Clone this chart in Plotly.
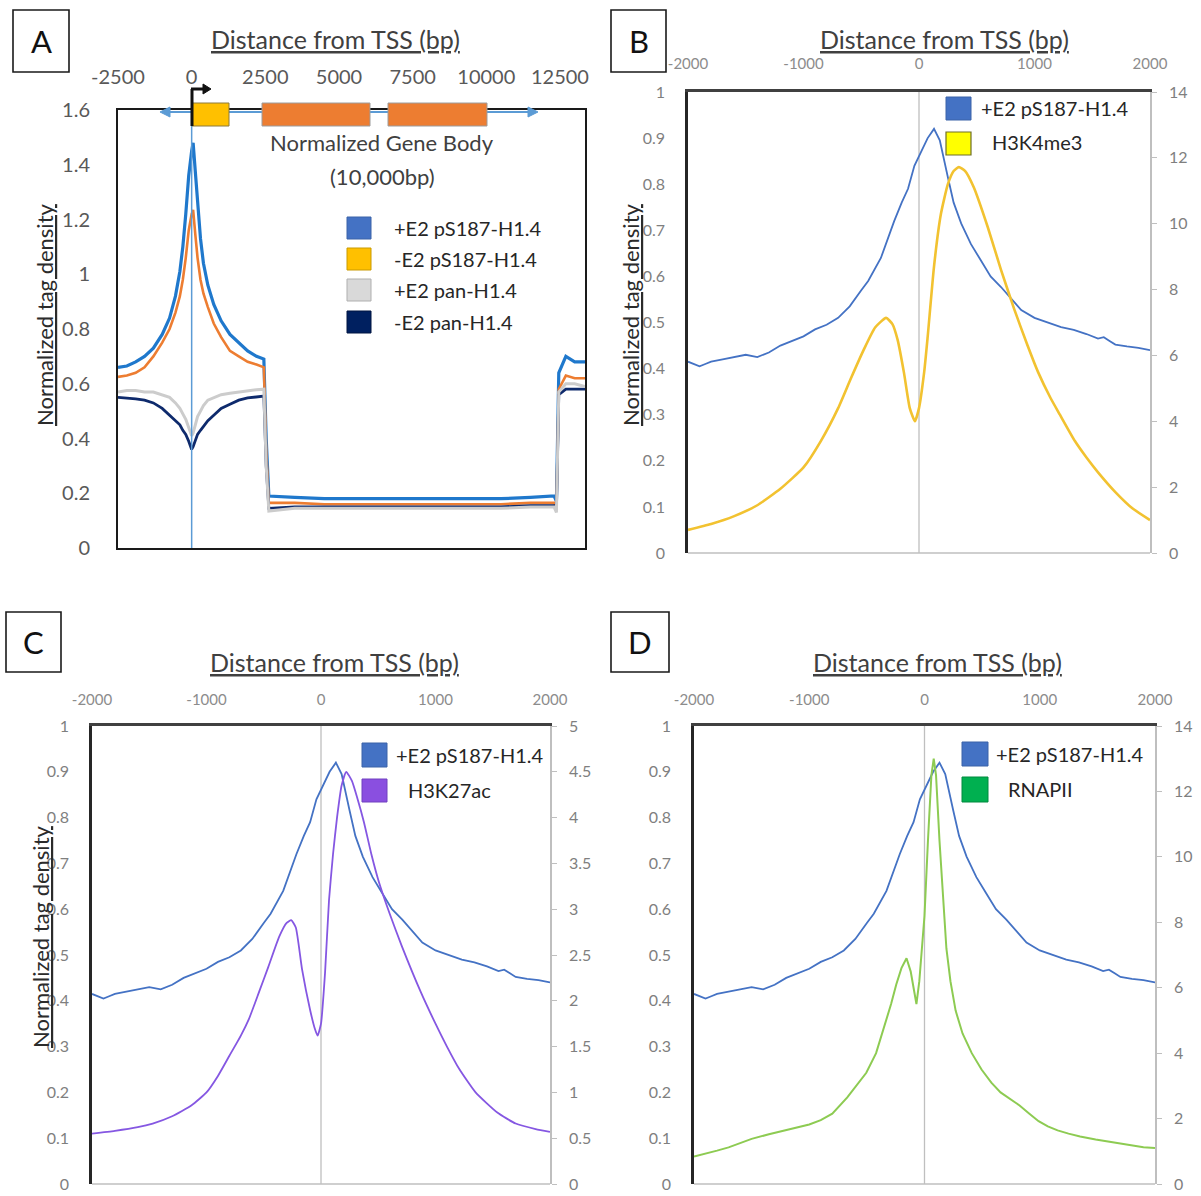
import plotly.graph_objects as go

# ---------------- data ----------------
# Panel A: metagene profile (TSS region, normalized gene body, TES region)
A_x = [-2500, -2200, -1900, -1600, -1300, -1000, -750, -550, -400, -300, -200, -100, 0, 50, 120, 200, 300, 400,
       550, 750, 1000, 1300, 1600, 1900, 2200, 2450,
       2530, 2620, 3500, 4500, 5500, 6500, 7500, 8500, 9500, 10500, 11500, 12300, 12380, 12460, 12700, 13000, 13350]
A_plusE2_pS187 = [0.66, 0.665, 0.68, 0.70, 0.73, 0.78, 0.84, 0.92, 1.01, 1.10, 1.22, 1.36, 1.45, 1.48, 1.38, 1.25, 1.13, 1.04,
                  0.96, 0.89, 0.83, 0.78, 0.75, 0.72, 0.70, 0.69,
                  0.40, 0.19, 0.185, 0.18, 0.18, 0.18, 0.18, 0.18, 0.18, 0.18, 0.185, 0.19, 0.17, 0.64, 0.70, 0.68, 0.68]
A_minusE2_pS187 = [0.625, 0.63, 0.64, 0.66, 0.70, 0.75, 0.80, 0.86, 0.92, 0.98, 1.06, 1.16, 1.22, 1.235, 1.15, 1.06, 0.98, 0.93,
                   0.88, 0.82, 0.77, 0.72, 0.70, 0.68, 0.67, 0.66,
                   0.36, 0.165, 0.165, 0.16, 0.16, 0.16, 0.16, 0.16, 0.16, 0.16, 0.165, 0.165, 0.15, 0.58, 0.63, 0.62, 0.62]
A_plusE2_pan = [0.57, 0.575, 0.575, 0.57, 0.57, 0.56, 0.55, 0.53, 0.51, 0.49, 0.47, 0.44, 0.41, 0.42, 0.45, 0.48, 0.50, 0.52,
                0.54, 0.55, 0.56, 0.565, 0.57, 0.575, 0.578, 0.58,
                0.30, 0.135, 0.145, 0.145, 0.145, 0.145, 0.145, 0.145, 0.145, 0.145, 0.15, 0.15, 0.13, 0.57, 0.60, 0.60, 0.59]
A_minusE2_pan = [0.55, 0.548, 0.545, 0.54, 0.53, 0.51, 0.485, 0.465, 0.45, 0.43, 0.415, 0.39, 0.36, 0.37, 0.39, 0.415, 0.43, 0.445,
                 0.465, 0.485, 0.51, 0.525, 0.54, 0.548, 0.552, 0.555,
                 0.30, 0.145, 0.15, 0.15, 0.15, 0.15, 0.15, 0.15, 0.15, 0.15, 0.155, 0.155, 0.14, 0.56, 0.58, 0.58, 0.58]
A_top_ticks = [-2500, 0, 2500, 5000, 7500, 10000, 12500]
A_y_ticks = [0, 0.2, 0.4, 0.6, 0.8, 1, 1.2, 1.4, 1.6]
A_legend = ["+E2 pS187-H1.4", "-E2 pS187-H1.4", "+E2 pan-H1.4", "-E2 pan-H1.4"]

# Panels B-D: +/-2 kb around TSS
tss_ticks = [-2000, -1000, 0, 1000, 2000]
left_ticks = [0, 0.1, 0.2, 0.3, 0.4, 0.5, 0.6, 0.7, 0.8, 0.9, 1]
right_ticks_14 = [0, 2, 4, 6, 8, 10, 12, 14]
right_ticks_5 = [0, 0.5, 1, 1.5, 2, 2.5, 3, 3.5, 4, 4.5, 5]

pS187_x = [-2000, -1950, -1900, -1850, -1800, -1700, -1600, -1500, -1400, -1300, -1200, -1100, -1000, -900, -800,
           -700, -600, -500, -440, -330, -215, -150, -95, -40, 15, 75, 130, 180, 250, 300, 365, 450, 535, 620, 710,
           800, 885, 1000, 1115, 1230, 1340, 1450, 1550, 1600, 1650, 1700, 1800, 1900, 2000]
pS187_y = [0.415, 0.41, 0.405, 0.41, 0.415, 0.42, 0.425, 0.43, 0.425, 0.435, 0.45, 0.46, 0.47, 0.485, 0.495,
           0.51, 0.535, 0.57, 0.59, 0.64, 0.72, 0.76, 0.79, 0.84, 0.87, 0.90, 0.92, 0.895, 0.815, 0.76, 0.715, 0.67,
           0.635, 0.60, 0.577, 0.55, 0.527, 0.51, 0.50, 0.49, 0.484, 0.475, 0.465, 0.468, 0.46, 0.452, 0.448, 0.445, 0.44]

H3K4me3_x = [-2000, -1800, -1600, -1400, -1200, -1000, -850, -700, -590, -475, -380, -285, -230, -185, -130,
             -80, -35, 0, 45, 75, 130, 190, 250, 300, 345, 400, 475, 595, 710, 825, 940, 1030, 1140, 1220, 1350,
             1450, 1550, 1700, 1850, 2000]
H3K4me3_y = [0.70, 0.88, 1.12, 1.45, 1.95, 2.6, 3.4, 4.4, 5.3, 6.2, 6.85, 7.14, 6.95, 6.47, 5.47,
             4.4, 4.0, 4.4, 5.5, 6.56, 8.7, 10.3, 11.2, 11.6, 11.72, 11.6, 11.1, 9.9, 8.6, 7.4, 6.3, 5.5, 4.7, 4.2, 3.4,
             2.9, 2.45, 1.85, 1.35, 1.0]

H3K27ac_x = [-2000, -1800, -1600, -1470, -1300, -1130, -1000, -900, -800, -700, -630, -540, -460, -365, -300,
             -260, -220, -165, -95, -55, -30, 0, 35, 70, 105, 140, 180, 220, 270, 320, 375, 440, 505, 600, 705,
             870, 1000, 1100, 1205, 1350, 1540, 1700, 1875, 2000]
H3K27ac_y = [0.55, 0.58, 0.62, 0.66, 0.74, 0.86, 1.0, 1.18, 1.4, 1.62, 1.8, 2.1, 2.37, 2.7, 2.85,
             2.88, 2.8, 2.34, 1.9, 1.7, 1.62, 1.75, 2.3, 3.1, 3.6, 4.0, 4.35, 4.5, 4.4, 4.2, 3.95, 3.6, 3.3, 2.95, 2.6,
             2.1, 1.75, 1.5, 1.26, 1.0, 0.78, 0.66, 0.6, 0.57]

RNAPII_x = [-2000, -1900, -1800, -1700, -1600, -1500, -1350, -1170, -1000, -900, -800, -670, -505, -420, -340,
            -290, -245, -200, -156, -120, -90, -70, -45, -20, 0, 30, 60, 80, 100, 130, 160, 190, 225, 270, 330,
            410, 495, 580, 660, 740, 825, 910, 990, 1070, 1155, 1250, 1350, 1485, 1600, 1700, 1825, 1900, 2000]
RNAPII_y = [0.84, 0.92, 1.02, 1.12, 1.25, 1.38, 1.52, 1.68, 1.82, 1.95, 2.15, 2.65, 3.4, 4.0, 4.9,
            5.5, 6.1, 6.6, 6.9, 6.5, 5.9, 5.5, 6.2, 7.2, 8.2, 10.5, 12.5, 13.0, 12.5, 10.5, 8.8, 7.2, 6.2, 5.3, 4.6,
            4.0, 3.5, 3.1, 2.8, 2.6, 2.4, 2.15, 1.92, 1.76, 1.64, 1.54, 1.45, 1.36, 1.29, 1.22, 1.15, 1.12, 1.1]

# ---------------- layout helpers ----------------
W, H = 1201, 1196
FONT = "Lato, 'Open Sans', sans-serif"


def fx(p):
    return p / W


def fy(p):
    return 1 - p / H


def fmt(v):
    return ("%g" % v)


def dom_x(l, r):
    return [fx(l), fx(r)]


def dom_y(t, b):
    return [fy(b), fy(t)]


fig = go.Figure()

# ---------------- traces ----------------
fig.add_trace(go.Scatter(x=A_x, y=A_plusE2_pS187, mode="lines", line=dict(color="#1F78CC", width=3.2),
                         xaxis="x", yaxis="y", name=A_legend[0]))
fig.add_trace(go.Scatter(x=A_x, y=A_minusE2_pS187, mode="lines", line=dict(color="#ED7D31", width=2.6),
                         xaxis="x", yaxis="y", name=A_legend[1]))
fig.add_trace(go.Scatter(x=A_x, y=A_minusE2_pan, mode="lines", line=dict(color="#0E2A6C", width=2.8),
                         xaxis="x", yaxis="y", name=A_legend[3]))
fig.add_trace(go.Scatter(x=A_x, y=A_plusE2_pan, mode="lines", line=dict(color="#CCCCCC", width=3.0),
                         xaxis="x", yaxis="y", name=A_legend[2]))

blue_line = dict(color="#4472C4", width=1.8)
fig.add_trace(go.Scatter(x=pS187_x, y=pS187_y, mode="lines", line=blue_line, xaxis="x2", yaxis="y2"))
fig.add_trace(go.Scatter(x=H3K4me3_x, y=H3K4me3_y, mode="lines", line=dict(color="#F2C230", width=2.6, shape="spline", smoothing=0.5),
                         xaxis="x2", yaxis="y3"))
fig.add_trace(go.Scatter(x=pS187_x, y=pS187_y, mode="lines", line=blue_line, xaxis="x3", yaxis="y4"))
fig.add_trace(go.Scatter(x=H3K27ac_x, y=H3K27ac_y, mode="lines", line=dict(color="#8557E2", width=1.8, shape="spline", smoothing=0.5),
                         xaxis="x3", yaxis="y5"))
fig.add_trace(go.Scatter(x=pS187_x, y=pS187_y, mode="lines", line=blue_line, xaxis="x4", yaxis="y6"))
fig.add_trace(go.Scatter(x=RNAPII_x, y=RNAPII_y, mode="lines", line=dict(color="#8DCB52", width=2.0),
                         xaxis="x4", yaxis="y7"))

# ---------------- axes ----------------
def top_axis(l, r, rng, ticks, size, color, standoff, anchor, linecolor, linewidth, mirror):
    return dict(domain=dom_x(l, r), range=rng, side="top", anchor=anchor, automargin=False,
                tickmode="array", tickvals=ticks, ticktext=[fmt(t) for t in ticks], ticklabeloverflow="allow",
                tickfont=dict(size=size, color=color, family=FONT), ticks="", ticklabelstandoff=standoff,
                showline=True, linecolor=linecolor, linewidth=linewidth, mirror=mirror,
                showgrid=False, zeroline=False, fixedrange=True)


def left_axis(t, b, rng, ticks, size, color, standoff, anchor, linecolor, linewidth, mirror):
    return dict(domain=dom_y(t, b), range=rng, side="left", anchor=anchor, automargin=False,
                tickmode="array", tickvals=ticks, ticktext=[fmt(t) for t in ticks], ticklabeloverflow="allow",
                tickfont=dict(size=size, color=color, family=FONT), ticks="", ticklabelstandoff=standoff,
                showline=True, linecolor=linecolor, linewidth=linewidth, mirror=mirror,
                showgrid=False, zeroline=False, fixedrange=True)


def right_axis(over, anchor, rng, ticks):
    return dict(overlaying=over, anchor=anchor, side="right", range=rng, automargin=False,
                tickmode="array", tickvals=ticks, ticktext=[fmt(t) for t in ticks], ticklabeloverflow="allow",
                tickfont=dict(size=16, color="#7F7F7F", family=FONT),
                ticks="outside", ticklen=5, tickwidth=1.2, tickcolor="#BFBFBF", ticklabelstandoff=9,
                showline=True, linecolor="#BFBFBF", linewidth=1.5,
                showgrid=False, zeroline=False, fixedrange=True)


PB = dict(l=688, r=1150, t=92, b=553)
PC = dict(l=92, r=550, t=726, b=1184)
PD = dict(l=694, r=1155, t=726, b=1184)

layout_axes = dict(
    xaxis=top_axis(118, 585, [-2500, 13350], A_top_ticks, 20, "#595959", 16, "y", "#1A1A1A", 2, True),
    yaxis=left_axis(110, 548, [0, 1.6], A_y_ticks, 20, "#595959", 22, "x", "#1A1A1A", 2, True),
    xaxis2=top_axis(PB["l"], PB["r"], [-2000, 2000], tss_ticks, 15, "#8C8C8C", 14, "y2", "#404040", 2.5, False),
    yaxis2=left_axis(PB["t"], PB["b"], [0, 1], left_ticks, 16, "#7F7F7F", 17, "x2", "#262626", 2.5, False),
    yaxis3=right_axis("y2", "x2", [0, 14], right_ticks_14),
    xaxis3=top_axis(PC["l"], PC["r"], [-2000, 2000], tss_ticks, 15, "#8C8C8C", 12, "y4", "#404040", 2.5, False),
    yaxis4=left_axis(PC["t"], PC["b"], [0, 1], left_ticks, 16, "#7F7F7F", 17, "x3", "#262626", 2.5, False),
    yaxis5=right_axis("y4", "x3", [0, 5], right_ticks_5),
    xaxis4=top_axis(PD["l"], PD["r"], [-2000, 2000], tss_ticks, 15, "#8C8C8C", 12, "y6", "#404040", 2.5, False),
    yaxis6=left_axis(PD["t"], PD["b"], [0, 1], left_ticks, 16, "#7F7F7F", 17, "x4", "#262626", 2.5, False),
    yaxis7=right_axis("y6", "x4", [0, 14], right_ticks_14),
)

# ---------------- shapes ----------------
shapes = []


def prect(x0, y0, x1, y1, fill, line_color, lw=1.0):
    shapes.append(dict(type="rect", xref="paper", yref="paper", x0=fx(x0), x1=fx(x1), y0=fy(y1), y1=fy(y0),
                       fillcolor=fill, line=dict(color=line_color, width=lw)))


def pline(x0, y0, x1, y1, color, lw):
    shapes.append(dict(type="line", xref="paper", yref="paper", x0=fx(x0), x1=fx(x1), y0=fy(y0), y1=fy(y1),
                       line=dict(color=color, width=lw)))


def ppath(points, fill, color, lw=1):
    d = "M " + " L ".join("%f,%f" % (fx(a), fy(b)) for a, b in points) + " Z"
    shapes.append(dict(type="path", xref="paper", yref="paper", path=d, fillcolor=fill,
                       line=dict(color=color, width=lw)))


# bottom gray borders and TSS lines for B-D
for xa, ya in [("x2", "y2"), ("x3", "y4"), ("x4", "y6")]:
    shapes.append(dict(type="line", xref=xa + " domain", yref=ya + " domain", x0=0, x1=1, y0=0, y1=0,
                       line=dict(color="#BFBFBF", width=1.5)))
    shapes.append(dict(type="line", xref=xa, yref=ya + " domain", x0=0, x1=0, y0=0, y1=1,
                       line=dict(color="#BFBFBF", width=1.3), layer="below"))

# TSS line in A
shapes.append(dict(type="line", xref="x", yref="y", x0=0, x1=0, y0=0, y1=1.6,
                   line=dict(color="#5B9BD5", width=1.5)))

# gene diagram in A
pline(168, 112, 530, 112, "#5B9BD5", 1.8)
ppath([(160, 112), (170, 107), (170, 117)], "#5B9BD5", "#5B9BD5")
ppath([(538, 112), (528, 107), (528, 117)], "#5B9BD5", "#5B9BD5")
prect(192, 103, 229, 126, "#FFC000", "#8C7A3C", 1)
prect(262, 103, 370, 126, "#ED7D31", "#9C9C9C", 1)
prect(388, 103, 487, 126, "#ED7D31", "#9C9C9C", 1)
pline(192, 126, 192, 89, "#111111", 3)
pline(191, 89, 203, 89, "#111111", 3)
ppath([(211, 89), (203, 84), (203, 94)], "#111111", "#111111")

# panel letter boxes
for (x0, y0, x1, y1) in [(13, 10, 69, 72), (611, 10, 666, 72), (6, 612, 61, 672), (611, 612, 669, 672)]:
    prect(x0, y0, x1, y1, "white", "#1A1A1A", 1.6)

# legend squares
leg_A_colors = [("#4472C4", "#3A62A8"), ("#FFC000", "#C99A00"), ("#D9D9D9", "#AFAFAF"), ("#002060", "#001540")]
leg_A_rows = [228, 259, 290, 322]
for (fc, lc), yc in zip(leg_A_colors, leg_A_rows):
    prect(347, yc - 11, 371, yc + 11, fc, lc, 1)

prect(946, 97, 971, 120, "#4472C4", "#3A62A8", 1)
prect(946, 132, 971, 155, "#FFFF00", "#6E6E2A", 1.2)
prect(362, 743, 387, 767, "#4472C4", "#3A62A8", 1)
prect(362, 779, 387, 802, "#8A4FE0", "#7040C0", 1)
prect(962, 742, 988, 766, "#4472C4", "#3A62A8", 1)
prect(962, 777, 988, 802, "#00B050", "#008A3E", 1)

# ---------------- annotations ----------------
ann = []


def text(x, y, s, size, color="#262626", xanchor="center", angle=0):
    ann.append(dict(xref="paper", yref="paper", x=fx(x), y=fy(y), text=s, showarrow=False,
                    xanchor=xanchor, yanchor="middle", textangle=angle,
                    font=dict(size=size, color=color, family=FONT)))


for (cx, cy, s) in [(41, 41, "A"), (638.5, 41, "B"), (33.5, 642, "C"), (640, 642, "D")]:
    text(cx, cy, s, 31, "#111111")

title = "<u>Distance from TSS (bp)</u>"
for (cx, cy) in [(335, 39), (944, 39), (334, 662), (937, 662)]:
    text(cx, cy, title, 25, "#404040")

ylab = "<u>Normalized tag density</u>"
for (cx, cy) in [(44, 315), (630, 315), (40, 937)]:
    text(cx, cy, ylab, 22, "#2B2B2B", angle=-90)

text(382, 143, "Normalized Gene Body", 22, "#404040")
text(382, 176, "(10,000bp)", 22, "#404040")

LEG = 20
for s, yc in zip(A_legend, leg_A_rows):
    text(392, yc, s, LEG, "#262626", xanchor="left")

text(979, 108, "+E2 pS187-H1.4", LEG, "#262626", xanchor="left")
text(990, 142, "H3K4me3", LEG, "#262626", xanchor="left")
text(394, 755, "+E2 pS187-H1.4", LEG, "#262626", xanchor="left")
text(406, 790, "H3K27ac", LEG, "#262626", xanchor="left")
text(994, 754, "+E2 pS187-H1.4", LEG, "#262626", xanchor="left")
text(1006, 789, "RNAPII", LEG, "#262626", xanchor="left")

fig.update_layout(
    width=W, height=H,
    margin=dict(l=0, r=0, t=0, b=0, autoexpand=False),
    paper_bgcolor="white", plot_bgcolor="rgba(0,0,0,0)",
    showlegend=False,
    font=dict(family=FONT),
    shapes=shapes,
    annotations=ann,
    **layout_axes,
)

fig.write_html("out.html", config={"displayModeBar": False},
               post_script="document.body.style.margin='0px';document.body.style.overflow='hidden';")
